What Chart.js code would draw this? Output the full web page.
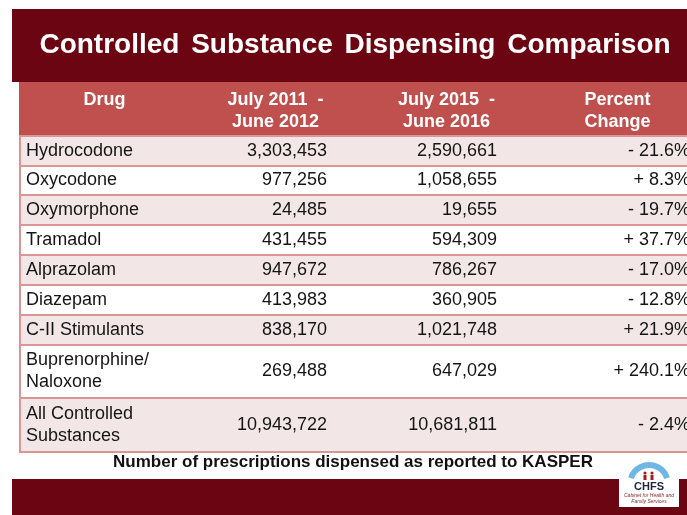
<!DOCTYPE html>
<html>
<head>
<meta charset="utf-8">
<script src="https://cdn.jsdelivr.net/npm/chart.js@4.4.1/dist/chart.umd.min.js"></script>
<style>
  html, body { margin: 0; padding: 0; background: #fff; }
  #wrap { width: 687px; height: 515px; overflow: hidden; }
</style>
</head>
<body>
<div id="wrap"><canvas id="table" width="703" height="515"></canvas></div>
<script>
// table data
const columns = [['Drug'], ['July 2011  -', 'June 2012'], ['July 2015  -', 'June 2016'], ['Percent', 'Change']];
const drugs = [
  ['Hydrocodone'], ['Oxycodone'], ['Oxymorphone'], ['Tramadol'], ['Alprazolam'],
  ['Diazepam'], ['C-II Stimulants'], ['Buprenorphine/', 'Naloxone'], ['All Controlled', 'Substances']
];
const dispensed2012 = [3303453, 977256, 24485, 431455, 947672, 413983, 838170, 269488, 10943722];
const dispensed2016 = [2590661, 1058655, 19655, 594309, 786267, 360905, 1021748, 647029, 10681811];
const percentChange = [-21.6, 8.3, -19.7, 37.7, -17.0, -12.8, 21.9, 240.1, -2.4];

const titleText = 'Controlled Substance Dispensing Comparison';
const footnote = 'Number of prescriptions dispensed as reported to KASPER';

const MAROON = '#6b0511';
const HEADER = '#c0504d';
const STRIPE = '#f2e6e6';
const RULE = '#d99694';
const FONT = "'Liberation Sans', Arial, sans-serif";

// row heights in y-units: one line = 1, each extra line adds 0.8
const unitsFor = n => 1 + (n - 1) * 0.8;
const headerUnits = unitsFor(Math.max(...columns.map(c => c.length)));
const rowUnits = drugs.map(d => unitsFor(d.length));
const rowStart = [];
let acc = headerUnits;
rowUnits.forEach(u => { rowStart.push(acc); acc += u; });
const totalUnits = acc;

const fmtNum = v => v.toLocaleString('en-US');
const fmtPct = v => (v < 0 ? '- ' : '+ ') + Math.abs(v).toFixed(1) + '%';

function drawLines(ctx, lines, x, mid, lineH) {
  lines.forEach((t, k) => ctx.fillText(t, x, mid + (k - (lines.length - 1) / 2) * lineH));
}

const slidePlugin = {
  id: 'slide',
  beforeDraw(chart) {
    const { ctx, width, height, chartArea } = chart;
    ctx.save();
    ctx.fillStyle = '#fff';
    ctx.fillRect(0, 0, width, height);
    ctx.fillStyle = MAROON;
    ctx.fillRect(12, 9, width - 12, chartArea.top - 9);
    ctx.fillRect(12, 479, width - 12, height - 479);
    ctx.restore();
  },
  afterDraw(chart) {
    const { ctx, chartArea } = chart;
    const xs = chart.scales.x, ys = chart.scales.y;
    const colW = xs.getPixelForValue(1) - xs.getPixelForValue(0);
    const colLeft = i => xs.getPixelForValue(i) - colW / 2;
    const left = chartArea.left, right = chartArea.right;
    const lineH = 22;

    ctx.save();
    // header band
    const hTop = ys.getPixelForValue(0), hBot = ys.getPixelForValue(headerUnits);
    ctx.fillStyle = HEADER;
    ctx.fillRect(left, hTop, right - left, hBot - hTop);
    ctx.fillStyle = '#fff';
    ctx.font = 'bold 18px ' + FONT;
    ctx.textAlign = 'center';
    ctx.textBaseline = 'middle';
    const hMid = (hTop + hBot) / 2 + 2.5;
    const first = hMid - (Math.max(...columns.map(c => c.length)) - 1) / 2 * lineH;
    columns.forEach((c, i) => {
      c.forEach((t, k) => ctx.fillText(t, xs.getPixelForValue(i), first + k * lineH));
    });

    // body rows
    drugs.forEach((d, r) => {
      const top = ys.getPixelForValue(rowStart[r]);
      const bot = ys.getPixelForValue(rowStart[r] + rowUnits[r]);
      ctx.fillStyle = r % 2 === 0 ? STRIPE : '#fff';
      ctx.fillRect(left, top, right - left, bot - top);
    });
    ctx.strokeStyle = RULE;
    ctx.lineWidth = 2;
    [headerUnits, ...rowStart.map((s, r) => s + rowUnits[r])].forEach(u => {
      const py = Math.round(ys.getPixelForValue(u));
      ctx.beginPath();
      ctx.moveTo(left, py);
      ctx.lineTo(right, py);
      ctx.stroke();
    });
    ctx.beginPath();
    ctx.moveTo(left + 1, hBot);
    ctx.lineTo(left + 1, ys.getPixelForValue(totalUnits));
    ctx.stroke();

    ctx.fillStyle = '#151515';
    ctx.font = '18px ' + FONT;
    drugs.forEach((d, r) => {
      const mid = (ys.getPixelForValue(rowStart[r]) + ys.getPixelForValue(rowStart[r] + rowUnits[r])) / 2;
      ctx.textAlign = 'left';
      drawLines(ctx, d, colLeft(0) + 7, mid, lineH);
      ctx.textAlign = 'right';
      drawLines(ctx, [fmtNum(dispensed2012[r])], colLeft(1) + colW - 34, mid, lineH);
      drawLines(ctx, [fmtNum(dispensed2016[r])], colLeft(2) + colW - 35, mid, lineH);
      drawLines(ctx, [fmtPct(percentChange[r])], colLeft(3) + colW - 13, mid, lineH);
    });

    // title and footnote
    ctx.textAlign = 'center';
    ctx.fillStyle = '#fff';
    ctx.font = 'bold 28px ' + FONT;
    ctx.wordSpacing = '4px';
    ctx.fillText(titleText, 355, 45);
    ctx.wordSpacing = '0px';
    ctx.fillStyle = '#111';
    ctx.font = 'bold 17px ' + FONT;
    ctx.fillText(footnote, 353, 462);

    // CHFS logo box
    ctx.fillStyle = '#fff';
    ctx.fillRect(619, 458, 60, 49);
    ctx.strokeStyle = '#6fb8e6';
    ctx.lineWidth = 6;
    ctx.beginPath();
    ctx.arc(649, 484, 19, Math.PI * 1.1, Math.PI * 1.9);
    ctx.stroke();
    ctx.fillStyle = '#a3191f';
    [645, 652].forEach(fx => {
      ctx.beginPath();
      ctx.arc(fx, 473, 1.6, 0, Math.PI * 2);
      ctx.fill();
      ctx.fillRect(fx - 1.5, 475, 3, 5);
    });
    ctx.fillStyle = '#1d2540';
    ctx.font = 'bold 11px ' + FONT;
    ctx.fillText('CHFS', 649, 487);
    ctx.fillStyle = '#8a2a2a';
    ctx.font = 'italic 5px ' + FONT;
    ctx.fillText('Cabinet for Health and', 649, 496);
    ctx.fillText('Family Services', 649, 502);
    ctx.restore();
  }
};

new Chart(document.getElementById('table'), {
  type: 'bar',
  data: { labels: columns.map(c => c.join(' ')), datasets: [] },
  options: {
    responsive: false,
    animation: false,
    events: [],
    layout: { padding: { top: 82, bottom: 63, left: 19, right: 0 } },
    plugins: { legend: { display: false }, tooltip: { enabled: false } },
    scales: {
      x: { type: 'category', offset: true, display: false },
      y: { type: 'linear', reverse: true, min: 0, max: totalUnits, display: false }
    }
  },
  plugins: [slidePlugin]
});
</script>
</body>
</html>
